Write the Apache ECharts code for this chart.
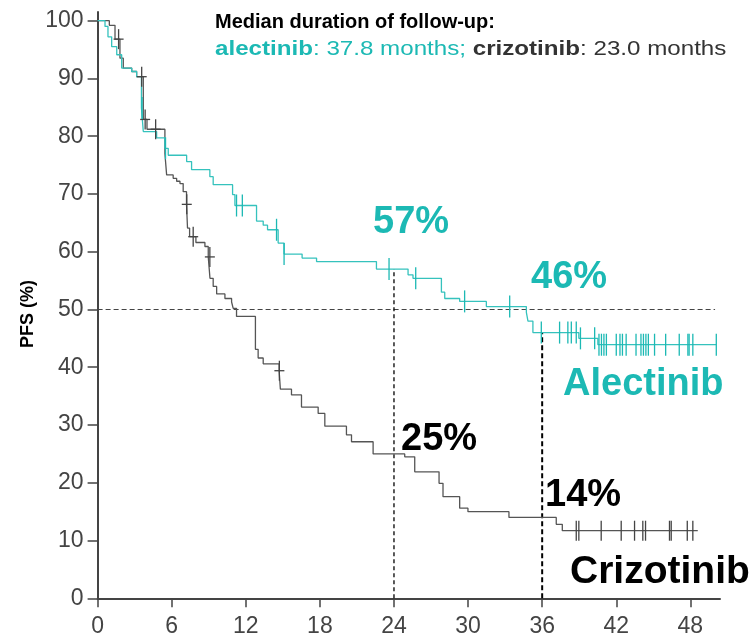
<!DOCTYPE html>
<html>
<head>
<meta charset="utf-8">
<title>PFS: alectinib vs crizotinib</title>
<script src="https://cdn.jsdelivr.net/npm/echarts@6/dist/echarts.min.js"></script>
<style>
  html, body { margin: 0; padding: 0; background: #fff; }
  #chart { width: 749px; height: 639px; }
</style>
</head>
<body>
<div id="chart"></div>
<script>
// Axis ticks
const monthTicks = [0, 6, 12, 18, 24, 30, 36, 42, 48];
const pfsTicks = [0, 10, 20, 30, 40, 50, 60, 70, 80, 90, 100];

// Kaplan–Meier steps: [month, PFS % after the event]
const alectinibSteps = [
  [0, 100], [0.6, 99.0], [0.84, 97.2], [1.14, 95.5], [1.55, 94.1], [1.95, 91.8],
  [2.76, 91.2], [3.16, 90.3], [3.55, 84.9], [3.7, 80.8], [4.78, 79.7], [5.45, 77.9],
  [5.72, 76.7], [7.21, 75.6], [7.61, 74.2], [9.09, 73.0], [9.36, 71.6], [10.93, 69.9],
  [11.12, 68.0], [12.87, 65.3], [13.41, 64.6], [13.76, 63.8], [14.62, 61.5], [15.1, 59.6],
  [16.56, 58.9], [17.73, 58.3], [22.58, 57.0], [25.14, 56.0], [25.54, 55.4], [27.84, 53.0],
  [28.11, 51.9], [29.32, 51.4], [31.48, 50.5], [34.72, 49.5], [34.85, 48.0], [35.25, 46.0],
  [38.97, 45.0], [40.51, 43.9]
];
const alectinibLastFollowUp = 50.1;
const alectinibCensored = [
  3.6, 5.5, 11.25, 11.72, 14.49, 15.1, 23.6, 25.76, 29.72, 33.37, 35.93, 37.41, 38.08,
  38.36, 38.76, 39.1, 40.25, 40.6, 40.8, 41.0, 41.2, 42.0, 42.3, 42.5, 42.8, 43.6, 44.0,
  44.2, 44.4, 44.6, 45.1, 46.0, 47.1, 47.8, 47.9, 48.2, 50.1
];

const crizotinibSteps = [
  [0, 100], [0.95, 99.2], [1.41, 96.8], [1.81, 93.5], [2.08, 91.8], [2.76, 91.2],
  [3.16, 90.3], [3.7, 82.9], [4.0, 81.2], [5.45, 77.0], [5.59, 73.3], [6.12, 72.7],
  [6.4, 72.2], [6.67, 71.8], [6.93, 70.4], [7.2, 68.2], [7.28, 64.1], [7.45, 62.6],
  [7.96, 61.6], [8.69, 60.9], [8.96, 59.1], [9.1, 55.4], [9.36, 54.0], [9.64, 52.7],
  [10.31, 51.9], [10.85, 51.3], [10.98, 50.2], [11.25, 48.8], [12.78, 43.1], [13.0, 41.6],
  [13.41, 40.6], [14.7, 39.4], [14.8, 36.2], [15.7, 35.2], [16.51, 33.1], [17.86, 32.0],
  [18.4, 29.8], [20.15, 28.3], [20.56, 27.1], [22.31, 25.0], [24.87, 24.5], [25.68, 21.9],
  [27.65, 19.9], [27.97, 17.6], [29.32, 15.6], [29.99, 15.0], [33.31, 14.0], [37.14, 12.8],
  [37.63, 11.7]
];
const crizotinibLastFollowUp = 48.6;
const crizotinibCensored = [
  1.7, 3.57, 3.85, 4.7, 7.22, 7.74, 9.09, 14.72, 38.76, 38.97, 40.78, 42.4, 43.48,
  44.15, 44.37, 46.31, 46.45, 47.75, 48.2
];

// Landmark estimates and the median reference line
const landmarkMonths = [24, 36];
const alectinibLandmark = [57, 46];
const crizotinibLandmark = [25, 14];
const medianPfs = 50;
const medianLineTo = 50;

const followUpText = {
  title: 'Median duration of follow-up:',
  alectinib: ['alectinib', ': 37.8 months;'],
  crizotinib: ['crizotinib', ': 23.0 months']
};

const TEAL = '#1cb9b4';
const TEAL_LINE = '#35c2bd';
const GREY_LINE = '#555555';
const FONT = '"Liberation Sans", Arial, Helvetica, sans-serif';

function levelAt(steps, t) {
  let v = steps[0][1];
  for (const [s, val] of steps) {
    if (s <= t) v = val; else break;
  }
  return v;
}

function curveData(steps, lastFollowUp) {
  const pts = steps.map(d => [d[0], d[1]]);
  pts.push([lastFollowUp, steps[steps.length - 1][1]]);
  return pts;
}

function censorData(steps, times, crossBefore) {
  return times.map(t => [t, levelAt(steps, t), t < crossBefore ? 1 : 0]);
}

// Censoring tick: a vertical bar, optionally crossed by a short horizontal bar
function censorRenderer(color, height, crossWidth) {
  return function (params, api) {
    const p = api.coord([api.value(0), api.value(1)]);
    const children = [{
      type: 'line',
      shape: { x1: p[0], y1: p[1] - height / 2, x2: p[0], y2: p[1] + height / 2 },
      style: { stroke: color, lineWidth: 1.3 }
    }];
    if (api.value(2)) {
      children.push({
        type: 'line',
        shape: { x1: p[0] - crossWidth / 2, y1: p[1], x2: p[0] + crossWidth / 2, y2: p[1] },
        style: { stroke: color, lineWidth: 1.3 }
      });
    }
    return { type: 'group', children };
  };
}

function bigLabel(text, x, y, color, size) {
  return {
    type: 'text', x: x, y: y, z: 10,
    style: { text: text, fill: color, font: 'bold ' + size + 'px ' + FONT }
  };
}

const chart = echarts.init(document.getElementById('chart'), null, { renderer: 'canvas' });

const option = {
  animation: false,
  backgroundColor: '#ffffff',
  grid: { left: 97.6, right: 29, top: 12, bottom: 40.7, containLabel: false },
  xAxis: {
    type: 'value',
    min: 0,
    max: 50.4,
    interval: 6,
    splitLine: { show: false },
    axisLine: { show: true, lineStyle: { color: '#444', width: 2 } },
    axisTick: { show: true, length: 9, customValues: monthTicks, lineStyle: { color: '#444', width: 1.5 } },
    axisLabel: {
      customValues: monthTicks, margin: 17, color: '#444',
      fontSize: 23, fontFamily: FONT
    }
  },
  yAxis: {
    type: 'value',
    min: 0,
    max: 101.5,
    interval: 10,
    splitLine: { show: false },
    axisLine: { show: true, lineStyle: { color: '#444', width: 2 } },
    axisTick: { show: true, length: 10, customValues: pfsTicks, lineStyle: { color: '#444', width: 1.5 } },
    axisLabel: {
      customValues: pfsTicks, margin: 14, color: '#444',
      fontSize: 23, fontFamily: FONT
    }
  },
  series: [
    {
      name: 'median',
      type: 'line',
      data: [[0, medianPfs], [medianLineTo, medianPfs]],
      symbol: 'none',
      lineStyle: { color: '#444', width: 1.1, type: [5, 3] },
      z: 1
    },
    {
      name: 'landmark24',
      type: 'line',
      data: [[landmarkMonths[0], 0], [landmarkMonths[0], alectinibLandmark[0]]],
      symbol: 'none',
      lineStyle: { color: '#000', width: 1.3, type: [4, 3] },
      z: 1
    },
    {
      name: 'landmark36',
      type: 'line',
      data: [[landmarkMonths[1], 0], [landmarkMonths[1], alectinibLandmark[1]]],
      symbol: 'none',
      lineStyle: { color: '#000', width: 2, type: [5, 3] },
      z: 1
    },
    {
      name: 'Crizotinib',
      type: 'line',
      step: 'end',
      data: curveData(crizotinibSteps, crizotinibLastFollowUp),
      symbol: 'none',
      lineStyle: { color: GREY_LINE, width: 1.3 },
      z: 3
    },
    {
      name: 'Alectinib',
      type: 'line',
      step: 'end',
      data: curveData(alectinibSteps, alectinibLastFollowUp),
      symbol: 'none',
      lineStyle: { color: TEAL_LINE, width: 1.3 },
      z: 3
    },
    {
      name: 'Crizotinib censored',
      type: 'custom',
      data: censorData(crizotinibSteps, crizotinibCensored, 20),
      encode: { x: 0, y: 1 },
      renderItem: censorRenderer('#444', 20, 10),
      z: 4
    },
    {
      name: 'Alectinib censored',
      type: 'custom',
      data: censorData(alectinibSteps, alectinibCensored, 0),
      encode: { x: 0, y: 1 },
      renderItem: censorRenderer(TEAL, 22, 0),
      z: 4
    }
  ],
  graphic: [
    {
      type: 'text', x: 28, y: 314, rotation: Math.PI / 2,
      style: { text: 'PFS (%)', fill: '#000', font: 'bold 18px ' + FONT, align: 'center', verticalAlign: 'middle' }
    },
    {
      type: 'text', x: 215, y: 12,
      style: { text: followUpText.title, fill: '#000', font: 'bold 20px ' + FONT }
    },
    {
      type: 'text', x: 215, y: 39, scaleX: 1.15,
      style: {
        text: '{a|' + followUpText.alectinib[0] + '}{b|' + followUpText.alectinib[1] + ' }' +
              '{c|' + followUpText.crizotinib[0] + '}{d|' + followUpText.crizotinib[1] + '}',
        rich: {
          a: { fill: TEAL, fontWeight: 'bold', fontSize: 21, fontFamily: FONT },
          b: { fill: TEAL, fontSize: 21, fontFamily: FONT },
          c: { fill: '#333', fontWeight: 'bold', fontSize: 21, fontFamily: FONT },
          d: { fill: '#333', fontSize: 21, fontFamily: FONT }
        }
      }
    },
    bigLabel(alectinibLandmark[0] + '%', 373, 204, TEAL, 38),
    bigLabel(alectinibLandmark[1] + '%', 531, 259, TEAL, 38),
    bigLabel(crizotinibLandmark[0] + '%', 401, 421, '#000', 38),
    bigLabel(crizotinibLandmark[1] + '%', 545, 477, '#000', 38),
    bigLabel('Alectinib', 563, 366, TEAL, 38),
    bigLabel('Crizotinib', 570, 553, '#000', 39)
  ]
};

chart.setOption(option);
</script>
</body>
</html>
